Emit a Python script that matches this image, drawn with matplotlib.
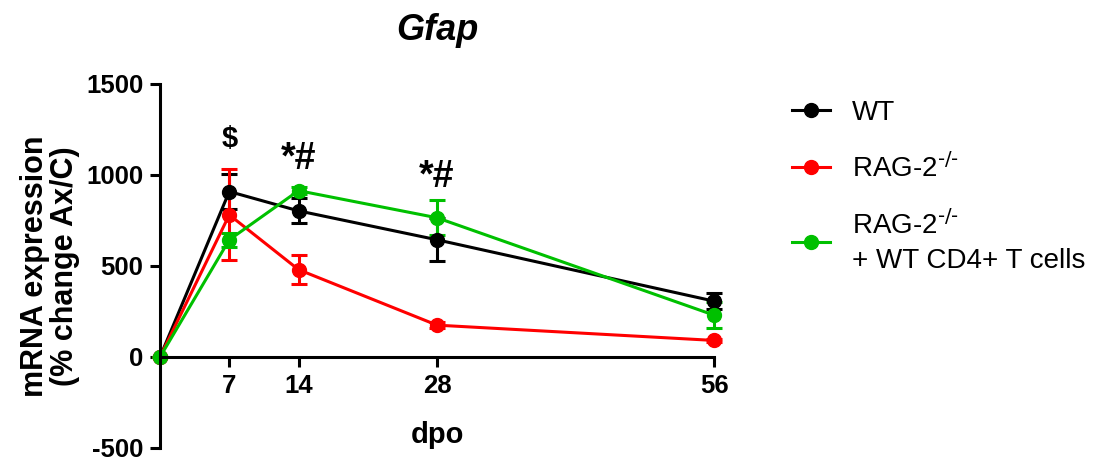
import matplotlib
matplotlib.use("Agg")
import matplotlib.pyplot as plt
from matplotlib.lines import Line2D

plt.rcParams["font.family"] = ["Liberation Sans", "DejaVu Sans"]
plt.rcParams["axes.unicode_minus"] = False

days = [0, 7, 14, 28, 56]

wt = [0, 909, 803, 644, 307]
wt_err = [0, 95, 68, 118, 44]

rag = [0, 781, 480, 175, 91]
rag_err = [0, 250, 80, 15, 10]

rag_cd4 = [0, 644, 914, 765, 230]
rag_cd4_err = [0, 40, 20, 96, 71]

series = [
    ("WT", wt, wt_err, "black"),
    ("RAG-2$^{\\text{-/-}}$", rag, rag_err, "#FF0000"),
    ("RAG-2$^{\\text{-/-}}$\n+ WT CD4+ T cells", rag_cd4, rag_cd4_err, "#00C000"),
]

marks = [(7, 1200, "$", 21), (14, 1090, "*#", 27), (28, 990, "*#", 27)]

fig = plt.figure(figsize=(11.16, 4.61), dpi=100)
ax = fig.add_axes([0.1434, 0.0282, 0.4964, 0.7896])

handles = []
for lab, y, e, col in series:
    ax.errorbar(days, y, yerr=e, color=col, lw=2.2, marker="o", ms=10,
                capsize=6, capthick=2.2, elinewidth=2.2, clip_on=False)
    handles.append(Line2D([], [], color=col, lw=2.2, marker="o", ms=10, label=lab))

for x, y, s, fs in marks:
    ax.text(x, y, s, ha="center", va="center", fontsize=fs, fontweight="bold")

ax.set_xlim(0, 56)
ax.set_ylim(-500, 1500)
ax.set_xticks([7, 14, 28, 56])
ax.set_yticks([-500, 0, 500, 1000, 1500])
ax.spines["bottom"].set_position(("data", 0))
ax.spines["top"].set_visible(False)
ax.spines["right"].set_visible(False)
for sp in ("left", "bottom"):
    ax.spines[sp].set_linewidth(2.2)
ax.tick_params(width=2.2, length=7, labelsize=18.5, pad=5)
for t in ax.get_xticklabels() + ax.get_yticklabels():
    t.set_fontweight("bold")

ax.set_ylabel("mRNA expression\n(% change Ax/C)", fontsize=22, fontweight="bold",
              linespacing=1.0)
ax.yaxis.set_label_coords(-0.145, 0.5)
ax.set_xlabel("dpo", fontsize=21, fontweight="bold")
ax.xaxis.set_label_coords(0.5, 0.074)
ax.set_title("Gfap", fontsize=26, fontweight="bold", style="italic", pad=32)

leg = fig.legend(handles=handles, loc="upper left", bbox_to_anchor=(0.7097, 0.784),
                 frameon=False, fontsize=20, handlelength=1.37, labelspacing=0.98,
                 handletextpad=0.8, borderpad=0, borderaxespad=0)
leg.get_texts()[2].set_linespacing(1.4)

fig.savefig("out.png", dpi=100)
